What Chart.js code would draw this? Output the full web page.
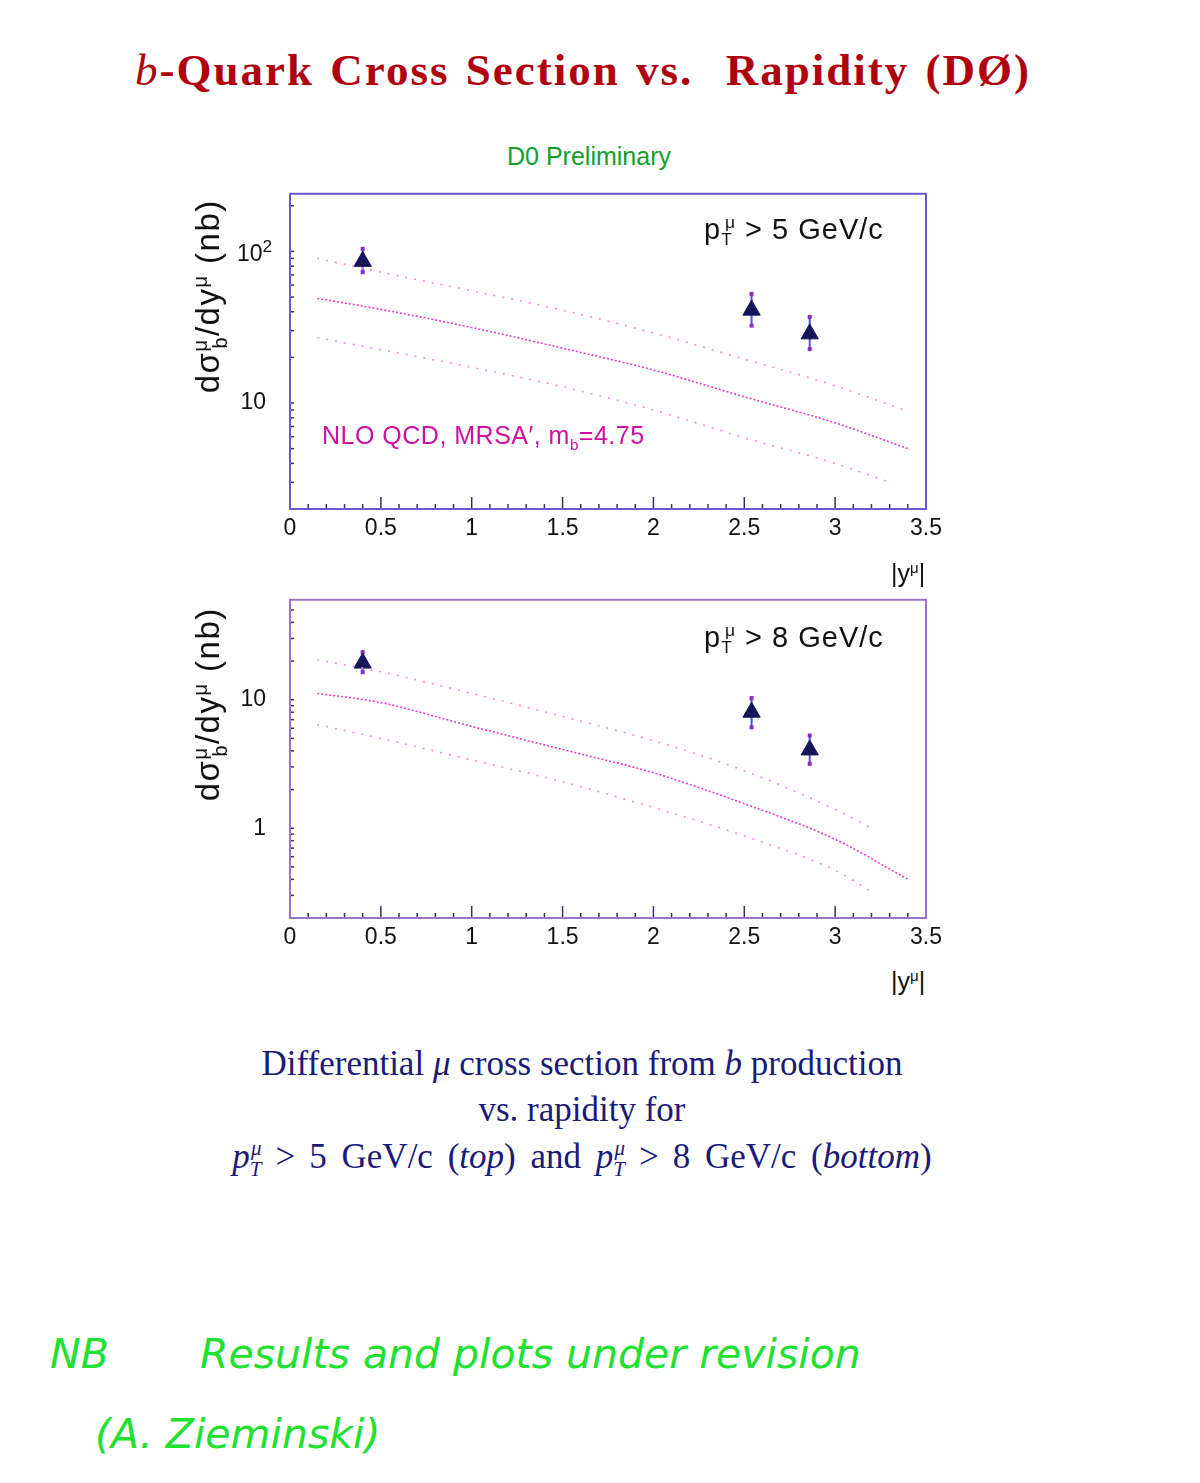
<!DOCTYPE html>
<html>
<head>
<meta charset="utf-8">
<script src="https://cdn.jsdelivr.net/npm/chart.js@4.4.1/dist/chart.umd.min.js"></script>
<style>
  body { margin: 0; background: #fff; width: 1200px; height: 1483px; position: relative; overflow: hidden; }
  .abs { position: absolute; white-space: nowrap; }
  .title { left: 0; width: 1166px; top: 44px; text-align: center; font-family: "Liberation Serif", serif; font-weight: bold; font-size: 45px; color: #b00010; letter-spacing: 2px; word-spacing: 3px; }
  .prelim { left: 0; width: 1178px; top: 142px; text-align: center; font-family: "Liberation Sans", sans-serif; font-size: 25px; color: #10a030; }
  .plot { position: absolute; left: 180px; width: 780px; }
  .ylab { font-family: "Liberation Sans", sans-serif; font-size: 33px; color: #111; transform: rotate(-90deg); transform-origin: center center; width: 300px; text-align: center; letter-spacing: 1.5px; }
  .ptlab { font-family: "Liberation Sans", sans-serif; font-size: 29px; color: #111; letter-spacing: 1px; }
  .xlab { font-family: "Liberation Sans", sans-serif; font-size: 25px; color: #111; }
  .ytl { font-family: "Liberation Sans", sans-serif; font-size: 23px; color: #111; }
  .nlo { font-family: "Liberation Sans", sans-serif; font-size: 25px; color: #d010a0; letter-spacing: 0.5px; }
  .cap { left: 0; width: 1164px; text-align: center; font-family: "Liberation Serif", serif; font-size: 35px; color: #1a1a78; }
  .rel { margin: 0 0.4em; }
  .hand { font-family: "DejaVu Sans", sans-serif; font-style: italic; font-weight: 300; font-size: 41px; color: #20e030; }
  sup, sub { font-size: 60%; }
</style>
</head>
<body>
<div class="abs title"><i style="font-weight:normal">b</i>-Quark Cross Section vs.&nbsp; Rapidity (DØ)</div>
<div class="abs prelim">D0 Preliminary</div>

<div class="plot" style="top:156px; height:394px;"><canvas id="topChart"></canvas></div>
<div class="plot" style="top:562px; height:397px;"><canvas id="bottomChart"></canvas></div>

<div class="abs ylab" style="left:60px; top:275px;">dσ<sup>μ</sup><sub style="margin-left:-0.5em">b</sub>/dy<sup>μ</sup> (nb)</div>
<div class="abs ylab" style="left:60px; top:683px;">dσ<sup>μ</sup><sub style="margin-left:-0.5em">b</sub>/dy<sup>μ</sup> (nb)</div>

<div class="abs ytl" style="left:237px; top:236px;">10<sup style="font-size:75%">2</sup></div>

<div class="abs ptlab" style="left:704px; top:212px;">p<sub>T</sub><sup style="margin-left:-0.45em">μ</sup> &gt; 5 GeV/c</div>
<div class="abs ptlab" style="left:704px; top:620px;">p<sub>T</sub><sup style="margin-left:-0.45em">μ</sup> &gt; 8 GeV/c</div>
<div class="abs nlo" style="left:322px; top:421px;">NLO QCD, MRSA′, m<sub>b</sub>=4.75</div>

<div class="abs xlab" style="left:891px; top:559px;">|y<sup>μ</sup>|</div>
<div class="abs xlab" style="left:891px; top:967px;">|y<sup>μ</sup>|</div>

<div class="abs cap" style="top:1044px;">Differential <i>μ</i> cross section from <i>b</i> production</div>
<div class="abs cap" style="top:1090px;">vs. rapidity for</div>
<div class="abs cap" style="top:1136px; word-spacing:6px;"><i>p</i><sub><i>T</i></sub><sup style="margin-left:-0.5em"><i>μ</i></sup><span class="rel">&gt;</span>5 GeV/c (<i>top</i>) and <i>p</i><sub><i>T</i></sub><sup style="margin-left:-0.5em"><i>μ</i></sup><span class="rel">&gt;</span>8 GeV/c (<i>bottom</i>)</div>

<div class="abs hand" style="left:50px; top:1330px;">NB</div>
<div class="abs hand" style="left:200px; top:1330px;">Results and plots under revision</div>
<div class="abs hand" style="left:95px; top:1410px;">(A. Zieminski)</div>

<script>
// measured points (|y|, cross section in nb, error bar ends)
const dataX = [0.40, 2.54, 2.86];
const top5 = [86, 41, 28.6];
const top5Lo = [73, 32.4, 22.7];
const top5Hi = [104, 52.5, 37];
const bot8 = [19.3, 8.0, 4.07];
const bot8Lo = [16.4, 6.1, 3.17];
const bot8Hi = [23.5, 10.3, 5.27];

// NLO QCD curves
const curveX = [0.15, 0.5, 1.0, 1.5, 2.0, 2.5, 3.0, 3.4];
const topCentral = [49, 41.5, 31.5, 23, 16.5, 11, 7.4, 5.0];
const topUpper = [90, 73, 55, 41, 29, 19.5, 13, 8.8];
const topLowerX = [0.15, 0.5, 1.0, 1.5, 2.0, 2.5, 3.0, 3.3];
const topLower = [27, 22.5, 17.2, 12.8, 9.0, 5.9, 4.0, 3.0];

const botCentral = [11.2, 9.5, 6.2, 4.1, 2.7, 1.55, 0.82, 0.40];
const botBandX = [0.15, 0.5, 1.0, 1.5, 2.0, 2.5, 3.0, 3.2];
const botUpper = [20.5, 16.5, 11.2, 7.4, 4.8, 2.8, 1.4, 1.0];
const botLower = [6.4, 5.0, 3.4, 2.3, 1.45, 0.87, 0.47, 0.32];

const xTickValues = [];
for (let i = 0; i <= 35; i++) xTickValues.push(i / 10);
const topYTicks = [2, 3, 4, 5, 6, 7, 8, 9, 10, 20, 30, 40, 50, 60, 70, 80, 90, 100, 200];
const botYTicks = [0.2, 0.3, 0.4, 0.5, 0.6, 0.7, 0.8, 0.9, 1, 2, 3, 4, 5, 6, 7, 8, 9, 10, 20, 30, 40, 50];
const topYLabels = { 10: '10' };   // 10^2 is set as html above, for the raised 2
const botYLabels = { 1: '1', 10: '10' };

function pts(xs, ys) { return xs.map((x, i) => ({ x: x, y: ys[i] })); }

const ticksAndFrame = {
  id: 'ticksAndFrame',
  afterDatasetsDraw(chart, args, opts) {
    const c = chart.ctx, a = chart.chartArea;
    const xs = chart.scales.x, ys = chart.scales.y;
    c.save();
    c.strokeStyle = '#33335a';
    c.lineWidth = 1.5;
    xs.ticks.forEach(t => {
      const px = xs.getPixelForValue(t.value);
      const major = Math.round(t.value * 10) % 5 === 0;
      c.beginPath();
      c.moveTo(px, a.bottom);
      c.lineTo(px, a.bottom - (major ? 12 : 5));
      c.stroke();
    });
    ys.ticks.forEach(t => {
      const py = ys.getPixelForValue(t.value);
      c.beginPath();
      c.moveTo(a.left, py);
      c.lineTo(a.left + 4, py);
      c.stroke();
    });
    c.strokeStyle = opts.frame;
    c.lineWidth = 2;
    c.strokeRect(a.left, a.top, a.right - a.left, a.bottom - a.top);
    c.restore();
  }
};

const errorBars = {
  id: 'errorBars',
  beforeDatasetsDraw(chart) {
    const c = chart.ctx, xs = chart.scales.x, ys = chart.scales.y;
    chart.data.datasets.forEach(ds => {
      if (!ds.errLo) return;
      c.save();
      ds.data.forEach((p, i) => {
        const px = xs.getPixelForValue(p.x);
        const y1 = ys.getPixelForValue(ds.errLo[i]);
        const y2 = ys.getPixelForValue(ds.errHi[i]);
        c.strokeStyle = '#5050e0';
        c.lineWidth = 2;
        c.beginPath(); c.moveTo(px, y1); c.lineTo(px, y2); c.stroke();
        c.fillStyle = '#8030c0';
        c.fillRect(px - 2, y1 - 2, 4, 4);
        c.fillRect(px - 2, y2 - 2, 4, 4);
      });
      c.restore();
    });
  }
};

function makeChart(id, d) {
  new Chart(document.getElementById(id), {
    type: 'scatter',
    data: {
      datasets: [
        { data: pts(d.cx, d.central), showLine: true, borderColor: '#e83cd0', borderWidth: 1.6, borderDash: [2, 2], pointRadius: 0, cubicInterpolationMode: 'monotone' },
        { data: pts(d.ux, d.upper), showLine: true, borderColor: '#f28ae0', borderWidth: 1.6, borderDash: [2, 7], pointRadius: 0, cubicInterpolationMode: 'monotone' },
        { data: pts(d.lx, d.lower), showLine: true, borderColor: '#f28ae0', borderWidth: 1.6, borderDash: [2, 7], pointRadius: 0, cubicInterpolationMode: 'monotone' },
        { data: pts(dataX, d.val), errLo: d.lo, errHi: d.hi, pointStyle: 'triangle', pointRadius: 10, backgroundColor: '#15155a', borderColor: '#15155a', borderWidth: 1 }
      ]
    },
    options: {
      responsive: true,
      maintainAspectRatio: false,
      animation: false,
      layout: { padding: { top: 0, right: 34, left: 0, bottom: 0 } },
      scales: {
        x: {
          type: 'linear', min: 0, max: 3.5,
          grid: { display: false, drawTicks: false },
          border: { display: false },
          afterBuildTicks: s => { s.ticks = xTickValues.map(v => ({ value: v })); },
          afterFit: s => { s.height = 41; },
          ticks: {
            autoSkip: false, maxRotation: 0, padding: 6,
            color: '#111', font: { family: 'Liberation Sans', size: 23 },
            callback: v => (Math.round(v * 10) % 5 === 0 ? String(Math.round(v * 10) / 10) : '')
          }
        },
        y: {
          type: 'logarithmic', min: d.ymin, max: d.ymax,
          grid: { display: false, drawTicks: false },
          border: { display: false },
          afterBuildTicks: s => { s.ticks = d.yticks.map(v => ({ value: v })); },
          afterFit: s => { s.width = 110; },
          ticks: {
            autoSkip: false, padding: 24,
            color: '#111', font: { family: 'Liberation Sans', size: 23 },
            callback: v => d.ylabels[v] || ''
          }
        }
      },
      plugins: {
        legend: { display: false },
        tooltip: { enabled: false },
        ticksAndFrame: { frame: d.frame }
      }
    },
    plugins: [errorBars, ticksAndFrame]
  });
}

makeChart('topChart', {
  cx: curveX, central: topCentral, ux: curveX, upper: topUpper, lx: topLowerX, lower: topLower,
  val: top5, lo: top5Lo, hi: top5Hi, ymin: 2, ymax: 240, yticks: topYTicks, ylabels: topYLabels, frame: '#6a58d0'
});
makeChart('bottomChart', {
  cx: curveX, central: botCentral, ux: botBandX, upper: botUpper, lx: botBandX, lower: botLower,
  val: bot8, lo: bot8Lo, hi: bot8Hi, ymin: 0.2, ymax: 60, yticks: botYTicks, ylabels: botYLabels, frame: '#9a72c8'
});
</script>
</body>
</html>
